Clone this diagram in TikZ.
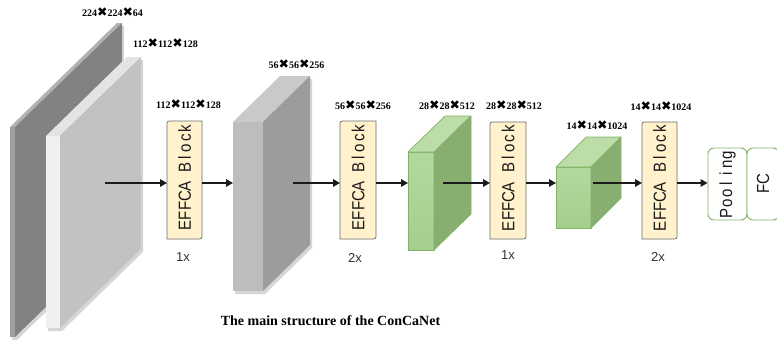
\documentclass[tikz,border=0pt]{standalone}
\usepackage{fontspec}
\setmainfont{Liberation Serif}
\newfontfamily\sansf{Liberation Sans}
\newfontfamily\effont[FakeStretch=0.86]{Liberation Sans}
\newfontfamily\symf{DejaVu Sans}
\usetikzlibrary{arrows.meta,backgrounds}
\definecolor{pafront}{HTML}{9F9F9F}
\definecolor{patop}{HTML}{B2B2B2}
\definecolor{paside}{HTML}{828282}
\definecolor{pbfront}{HTML}{F0F0F0}
\definecolor{pbtop}{HTML}{E4E4E4}
\definecolor{pbside}{HTML}{C2C2C2}
\definecolor{pcfront}{HTML}{BDBDBD}
\definecolor{pctop}{HTML}{C9C9C9}
\definecolor{pcside}{HTML}{9C9C9C}
\definecolor{gfront}{HTML}{A5CF8C}
\definecolor{gfronttop}{HTML}{B3D89E}
\definecolor{gtop}{HTML}{BCDCA8}
\definecolor{gside}{HTML}{88AE70}
\definecolor{gborder}{HTML}{82B366}
\definecolor{efffill}{HTML}{FFF2CC}
\definecolor{effborder}{HTML}{6B6B6B}
\definecolor{arrowc}{HTML}{1A1A1A}
\definecolor{repc}{HTML}{333333}
\newcommand{\xx}{\raisebox{-0.3pt}{\symf\fontsize{12.5}{12.5}\selectfont ✖}}
\newcommand{\cell}[1]{\makebox[9.7pt]{#1}}
\newcommand{\effcaframe}[1]{\draw[effline] (#1.south west) -- ([yshift=-5pt]#1.north west) .. controls (#1.north west) .. ([xshift=5pt]#1.north west) -- (#1.north east) -- ([yshift=5pt]#1.south east) .. controls (#1.south east) .. ([xshift=-5pt]#1.south east) -- cycle;}
\newcommand{\effcatext}{\cell{E}\cell{F}\cell{F}\cell{C}\cell{A}\cell{ }\cell{B}\cell{l}\cell{o}\cell{c}\cell{k}}
\begin{document}
\begin{tikzpicture}[x=1pt,y=-1pt,
  front/.style={rectangle, inner sep=0pt, outer sep=0pt},
  gfrontface/.style={front, draw=gborder, line width=0.7pt, top color=gfronttop, bottom color=gfront},
  gface/.style={draw=gborder, line width=0.7pt, line join=round},
  shadowc/.style={fill=black, opacity=0.16},
  effbox/.style={rectangle, inner sep=0pt, outer sep=0pt},
  effline/.style={draw=effborder, fill=efffill, line width=0.7pt},
  efftext/.style={inner sep=0pt, rotate=90, font=\effont\fontsize{17.5}{19}\selectfont, text=arrowc},
  gbox/.style={rectangle, rounded corners=6pt, draw=gborder, line width=0.9pt, fill=white, inner sep=0pt},
  dimlab/.style={inner sep=0pt, font=\bfseries\fontsize{10}{12}\selectfont},
  rep/.style={inner sep=0pt, font=\sansf\fontsize{13}{15}\selectfont, text=repc},
  arr/.style={draw=arrowc, line width=1.3pt, -{Triangle[length=7pt,width=7.5pt]}},
  captionstyle/.style={inner sep=0pt, font=\bfseries\fontsize{14}{16}\selectfont}
]
\useasboundingbox (0,0) rectangle (777,340);
\clip (0,0) rectangle (777,340);

% ---- plate 1 : 224x224x64
\node[front, minimum width=5pt, minimum height=210pt, fill=pafront] (p1) at (12.5,232) {};
\fill[patop] (p1.north west) -- ++(107,-104) -- ++(5,0) -- (p1.north east) -- cycle;
\fill[paside] (p1.north east) -- ++(107,-104) -- ++(0,210) -- (p1.south east) -- cycle;

% ---- plate 2 : 112x112x128
\node[front, minimum width=14pt, minimum height=192pt, fill=pbfront] (p2) at (53,232) {};
\fill[pbtop] (p2.north west) -- ++(81,-79) -- ++(14,0) -- (p2.north east) -- cycle;
\fill[pbside] (p2.north east) -- ++(81,-79) -- ++(0,192) -- (p2.south east) -- cycle;

% ---- plate 3 : 56x56x256
\node[front, minimum width=30pt, minimum height=169pt, fill=pcfront] (p3) at (248,206.5) {};
\fill[pctop] (p3.north west) -- ++(47,-46) -- ++(30,0) -- (p3.north east) -- cycle;
\fill[pcside] (p3.north east) -- ++(47,-46) -- ++(0,169) -- (p3.south east) -- cycle;

% ---- shadows of the grey plates
\begin{scope}[on background layer]
\fill[shadowc] ([shift={(2,3)}]p1.south west) -- ([shift={(2,3)}]p1.north west) -- ++(107,-104) -- ++(5,0) -- ++(0,210) -- ([shift={(2,3)}]p1.south east) -- cycle;
\fill[shadowc] ([shift={(2,3)}]p2.south west) -- ([shift={(2,3)}]p2.north west) -- ++(81,-79) -- ++(14,0) -- ++(0,192) -- ([shift={(2,3)}]p2.south east) -- cycle;
\fill[shadowc] ([shift={(2,3)}]p3.south west) -- ([shift={(2,3)}]p3.north west) -- ++(47,-46) -- ++(30,0) -- ++(0,169) -- ([shift={(2,3)}]p3.south east) -- cycle;
\end{scope}

% ---- plate 4 : 28x28x512 (green)
\node[gfrontface, minimum width=26pt, minimum height=98pt] (p4) at (421,201) {};
\filldraw[gface, fill=gtop] (p4.north west) -- ++(37,-36) -- ++(26,0) -- (p4.north east) -- cycle;
\filldraw[gface, fill=gside] (p4.north east) -- ++(37,-36) -- ++(0,98) -- (p4.south east) -- cycle;

% ---- plate 5 : 14x14x1024 (green)
\node[gfrontface, minimum width=35pt, minimum height=61pt] (p5) at (573.5,197.5) {};
\filldraw[gface, fill=gtop] (p5.north west) -- ++(30,-30) -- ++(35,0) -- (p5.north east) -- cycle;
\filldraw[gface, fill=gside] (p5.north east) -- ++(30,-30) -- ++(0,61) -- (p5.south east) -- cycle;

% ---- EFFCA blocks
\node[effbox, minimum width=35pt, minimum height=118pt] (b1) at (184.5,180) {};
\effcaframe{b1}
\node[efftext] (t1) at ([yshift=3pt]b1.center) {\effcatext};
\node[effbox, minimum width=36pt, minimum height=118pt] (b2) at (358,180) {};
\effcaframe{b2}
\node[efftext] (t2) at ([yshift=3pt]b2.center) {\effcatext};
\node[effbox, minimum width=36pt, minimum height=117pt] (b3) at (508,180.5) {};
\effcaframe{b3}
\node[efftext] (t3) at ([yshift=3pt]b3.center) {\effcatext};
\node[effbox, minimum width=35pt, minimum height=117pt] (b4) at (659.5,180.5) {};
\effcaframe{b4}
\node[efftext] (t4) at ([yshift=3pt]b4.center) {\effcatext};

% ---- Pooling and FC
\node[gbox, minimum width=39pt, minimum height=72pt] (pool) at (727.5,184) {};
\node[efftext] (poolt) at (pool.center) {\cell{P}\cell{o}\cell{o}\cell{l}\cell{i}\cell{n}\cell{g}};
\node[gbox, minimum width=32pt, minimum height=72pt] (fc) at (763,184) {};
\node[efftext] (fct) at (fc.center) {\cell{F}\cell{C}};

% ---- arrows
\coordinate (s1) at (105,183);
\coordinate (s3) at (293,183);
\coordinate (s5) at (443,183);
\coordinate (s7) at (593,183);
\draw[arr] (s1) -- (s1 -| b1.west);
\draw[arr] (b1.east |- s1) -- (s1 -| p3.west);
\draw[arr] (s3) -- (s3 -| b2.west);
\draw[arr] (b2.east |- s3) -- (s3 -| p4.west);
\draw[arr] (s5) -- (s5 -| b3.west);
\draw[arr] (b3.east |- s5) -- (s5 -| p5.west);
\draw[arr] (s7) -- (s7 -| b4.west);
\draw[arr] (b4.east |- s7) -- (s7 -| pool.west);

% ---- dimension labels
\node[dimlab] (l1) at (112.5,12) {224\xx224\xx64};
\node[dimlab] (l2) at (165.5,43) {112\xx112\xx128};
\node[dimlab] (l3) at (188.5,104) {112\xx112\xx128};
\node[dimlab] (l4) at (296.5,64) {56\xx56\xx256};
\node[dimlab] (l5) at (363,105) {56\xx56\xx256};
\node[dimlab] (l6) at (447,105) {28\xx28\xx512};
\node[dimlab] (l7) at (514,105) {28\xx28\xx512};
\node[dimlab] (l8) at (597,125) {14\xx14\xx1024};
\node[dimlab] (l9) at (661,106) {14\xx14\xx1024};

% ---- repetition counts
\node[rep] (r1) at (183,257) {1x};
\node[rep] (r2) at (355,258) {2x};
\node[rep] (r3) at (508,255) {1x};
\node[rep] (r4) at (658,257) {2x};

% ---- caption
\node[captionstyle] (cap) at (330.5,321) {The main structure of the ConCaNet};
\end{tikzpicture}
\end{document}
